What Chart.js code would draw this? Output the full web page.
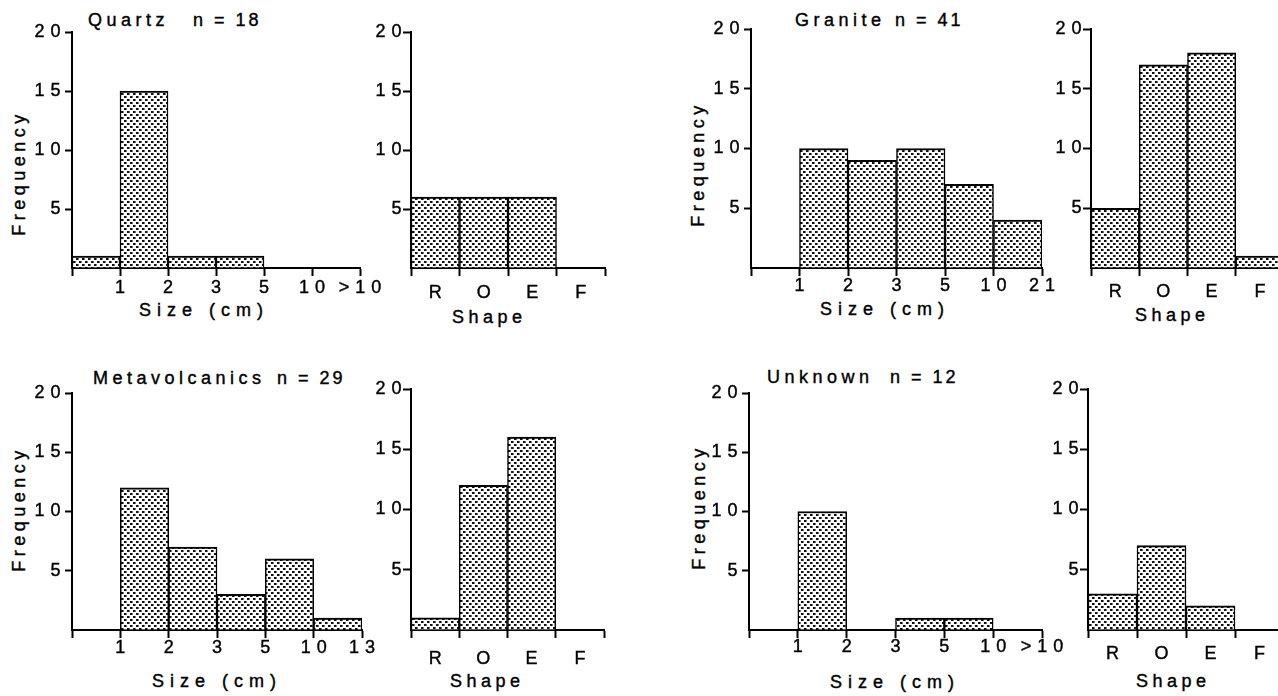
<!DOCTYPE html>
<html>
<head>
<meta charset="utf-8">
<script src="https://cdn.jsdelivr.net/npm/chart.js@4.4.1/dist/chart.umd.min.js"></script>
<style>
  body { margin: 0; width: 1278px; height: 696px; overflow: hidden; background: #fff; position: relative;
         font-family: 'Liberation Sans', Arial, sans-serif; color: #000; }
  canvas { position: absolute; }
  .txt { position: absolute; font-size: 18px; line-height: 20px; white-space: pre; letter-spacing: 4.5px;
         -webkit-text-stroke: 0.4px #000; }
  .n { letter-spacing: 3px; }
  .size { letter-spacing: 6px; }
  .freq { position: absolute; font-size: 18px; line-height: 20px; white-space: pre; letter-spacing: 4.5px;
          -webkit-text-stroke: 0.4px #000; transform: translate(-50%, -50%) rotate(-90deg); }
</style>
</head>
<body>

<div class="txt" style="left:88px;top:10px">Quartz</div>
<div class="txt n" style="left:193px;top:10px">n = 18</div>
<div class="txt" style="left:795px;top:10px">Granite</div>
<div class="txt n" style="left:895px;top:10px">n = 41</div>
<div class="txt" style="left:93px;top:368px">Metavolcanics</div>
<div class="txt n" style="left:277px;top:368px">n = 29</div>
<div class="txt" style="left:767px;top:367px">Unknown</div>
<div class="txt n" style="left:890px;top:367px">n = 12</div>

<div class="txt size" style="left:139px;top:300px">Size (cm)</div>
<div class="txt" style="left:452px;top:307px">Shape</div>
<div class="txt size" style="left:820px;top:299px">Size (cm)</div>
<div class="txt" style="left:1135px;top:305px">Shape</div>
<div class="txt size" style="left:152px;top:671px">Size (cm)</div>
<div class="txt" style="left:450px;top:671px">Shape</div>
<div class="txt size" style="left:830px;top:672px">Size (cm)</div>
<div class="txt" style="left:1136px;top:671px">Shape</div>

<div class="freq" style="left:19px;top:173px">Frequency</div>
<div class="freq" style="left:698px;top:164px">Frequency</div>
<div class="freq" style="left:19px;top:509px">Frequency</div>
<div class="freq" style="left:699px;top:507px">Frequency</div>

<script>
// data
const shapeLabels = ['R', 'O', 'E', 'F'];
const frequencyTicks = [0, 5, 10, 15, 20];

const quartzSizeLabels = ['', '1', '2', '3', '5', '10', '>10'];
const quartzSize = [1, 15, 1, 1, 0, 0];
const quartzShape = [6, 6, 6, 0];

const graniteSizeLabels = ['', '1', '2', '3', '5', '10', '21'];
const graniteSize = [0, 10, 9, 10, 7, 4];
const graniteShape = [5, 17, 18, 1];

const metaSizeLabels = ['', '1', '2', '3', '5', '10', '13'];
const metaSize = [0, 12, 7, 3, 6, 1];
const metaShape = [1, 12, 16, 0];

const unknownSizeLabels = ['', '1', '2', '3', '5', '10', '>10'];
const unknownSize = [0, 10, 0, 1, 1, 0];
const unknownShape = [3, 7, 2, 0];

Chart.defaults.font.family = "'Liberation Sans', Arial, sans-serif";
Chart.defaults.font.size = 18;
Chart.defaults.color = '#000';

const AXIS_W = 50, AXIS_H = 40, PAD_T = 14, PAD_R = 30;

const spacing = {
  id: 'spacing',
  beforeUpdate: c => { c.ctx.letterSpacing = '6px'; },
  beforeDraw: c => { c.ctx.letterSpacing = '6px'; }
};

function stipple() {
  const c = document.createElement('canvas');
  c.width = 6; c.height = 6;
  const g = c.getContext('2d');
  g.fillStyle = '#fff'; g.fillRect(0, 0, 6, 6);
  g.fillStyle = '#777';
  g.fillRect(2, 0, 1, 2); g.fillRect(5, 3, 1, 2);
  g.fillStyle = '#111';
  g.fillRect(0, 0, 2, 2); g.fillRect(3, 3, 2, 2);
  return g.createPattern(c, 'repeat');
}
const dots = stipple();

const barStyle = {
  backgroundColor: dots,
  borderColor: '#000',
  borderWidth: { top: 2, left: 1.5, right: 1.5, bottom: 0 },
  barPercentage: 1,
  categoryPercentage: 1
};

const tickText = { textStrokeWidth: 0.4, textStrokeColor: '#000' };

function makeCanvas(p) {
  const c = document.createElement('canvas');
  c.width = p.R - p.L + AXIS_W + PAD_R;
  c.height = p.B - p.T + PAD_T + AXIS_H;
  c.style.left = (p.L - AXIS_W) + 'px';
  c.style.top = (p.T - PAD_T) + 'px';
  document.body.appendChild(c);
  return c;
}

function yAxis(tickLen, pad) {
  return {
    min: 0, max: 20,
    afterBuildTicks: s => { s.ticks = frequencyTicks.map(v => ({ value: v })); },
    ticks: { ...tickText, padding: pad, callback: v => (v === 0 ? '' : v) },
    grid: {
      drawOnChartArea: false, tickLength: tickLen, tickWidth: 2,
      tickColor: c => (c.tick && c.tick.value === 0 ? 'rgba(0,0,0,0)' : '#000')
    },
    border: { color: '#000', width: 2 },
    afterFit: s => { s.width = AXIS_W; }
  };
}

const baseOptions = {
  responsive: false,
  animation: false,
  devicePixelRatio: 1,
  events: [],
  layout: { padding: { top: PAD_T, right: PAD_R, left: 0, bottom: 0 } },
  plugins: { legend: { display: false }, tooltip: { enabled: false } }
};

function sizePanel(labels, values, p) {
  new Chart(makeCanvas(p), {
    type: 'bar',
    data: {
      datasets: [{ ...barStyle, data: values.map((v, i) => ({ x: i + 0.5, y: v })) }]
    },
    options: {
      ...baseOptions,
      scales: {
        x: {
          type: 'linear', min: 0, max: labels.length - 1, offset: false,
          afterBuildTicks: s => { s.ticks = labels.map((_, i) => ({ value: i })); },
          ticks: { ...tickText, autoSkip: false, maxRotation: 0, labelOffset: 3,
                   padding: p.lab - 8 - 10.8, callback: v => labels[v] },
          grid: { offset: false, drawOnChartArea: false, tickLength: 8, tickWidth: 2, tickColor: '#000' },
          border: { color: '#000', width: 2 },
          afterFit: s => { s.height = AXIS_H; }
        },
        y: yAxis(7, -1.5)
      }
    },
    plugins: [spacing]
  });
}

function shapePanel(values, p) {
  new Chart(makeCanvas(p), {
    type: 'bar',
    data: { labels: shapeLabels, datasets: [{ ...barStyle, data: values }] },
    options: {
      ...baseOptions,
      scales: {
        x: {
          type: 'category', offset: true,
          ticks: { ...tickText, maxRotation: 0, labelOffset: 3, padding: p.lab - 8 - 10.8 },
          grid: { offset: true, drawOnChartArea: false, tickLength: 8, tickWidth: 2, tickColor: '#000' },
          border: { color: '#000', width: 2 },
          afterFit: s => { s.height = AXIS_H; }
        },
        y: yAxis(8, -4.5)
      }
    },
    plugins: [spacing]
  });
}

sizePanel(quartzSizeLabels, quartzSize, { L: 72, R: 360, T: 32, B: 268, lab: 20.5 });
shapePanel(quartzShape, { L: 411, R: 605, T: 32, B: 268, lab: 25 });
sizePanel(graniteSizeLabels, graniteSize, { L: 751, R: 1042, T: 29, B: 268, lab: 18.5 });
shapePanel(graniteShape, { L: 1091, R: 1284, T: 29, B: 268, lab: 24 });
sizePanel(metaSizeLabels, metaSize, { L: 72, R: 362, T: 393, B: 630, lab: 18.5 });
shapePanel(metaShape, { L: 411, R: 604, T: 389, B: 630, lab: 29 });
sizePanel(unknownSizeLabels, unknownSize, { L: 749, R: 1042, T: 393, B: 630, lab: 17.5 });
shapePanel(unknownShape, { L: 1088, R: 1284, T: 389, B: 630, lab: 24 });
</script>
</body>
</html>
